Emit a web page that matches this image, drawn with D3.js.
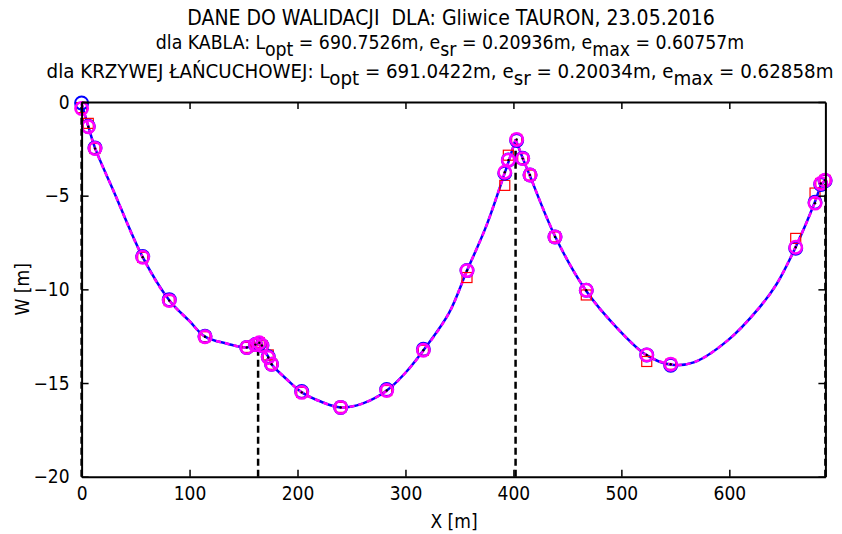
<!DOCTYPE html>
<html lang="pl">
<head>
  <meta charset="UTF-8">
  <title>Dane do walidacji</title>
  <script src="https://d3js.org/d3.v7.min.js"></script>
  <style>
    body { margin:0; background:#fff; }
    svg { display:block; }
    text { font-family: "Liberation Sans Narrow", "DejaVu Sans Condensed", "Liberation Sans", Arial, sans-serif; fill:#000; }
  </style>
</head>
<body>
  <script>
    // poles (vertical dashed lines)
    const poleX = [0, 163.5, 402, 689];
    const poleW = [-0.1, -12.9, -2.0, -4.15];

    // points
    const ptX   = [0, 6.2, 12.4, 56.6, 81.2, 114.3, 153, 161, 164.6, 167, 172.9, 176, 203.9, 240, 282.6, 316.6, 357, 392, 395.3, 403, 408.6, 415.4, 438.5, 467.5, 523.5, 545.7, 661.5, 679.4, 684.7, 688.7];
    const measW = [-0.3, -1.14, -2.48, -8.29, -10.6, -12.53, -13.1, -12.95, -12.85, -13.0, -13.5, -14.0, -15.5, -16.3, -15.4, -13.25, -9.37, -4.45, -2.84, -2.0, -3.02, -3.9, -7.2, -10.3, -13.85, -14.0, -7.28, -4.86, -4.35, -4.18];
    const kabW  = [-0.05, -1.3, -2.45, -8.25, -10.55, -12.5, -13.1, -12.95, -12.9, -13.0, -13.6, -14.0, -15.45, -16.3, -15.35, -13.2, -9.0, -3.8, -3.1, -2.05, -3.0, -3.9, -7.2, -10.05, -13.5, -14.05, -7.8, -5.35, -4.4, -4.2];
    const lancW = [-0.35, -1.32, -2.48, -8.29, -10.6, -12.53, -13.1, -12.95, -12.85, -13.0, -13.64, -14.0, -15.5, -16.3, -15.4, -13.25, -9.0, -3.75, -3.1, -2.0, -3.02, -3.9, -7.2, -10.05, -13.5, -14.0, -7.75, -5.4, -4.35, -4.18];

    // curves (cable = blue solid, catenary = magenta dashed)
    const lineX    = [0, 6.2, 12.4, 30, 56.6, 81.2, 100, 114.3, 135, 153, 163.5, 173, 176, 190, 204, 222, 240, 260, 283, 300, 317, 340, 357, 375, 392, 396, 402, 409, 415, 439, 467, 495, 523, 546, 567, 598, 628, 644, 661, 679, 685, 689];
    const kabLine  = [-0.1, -1.3, -2.45, -4.8, -8.28, -10.58, -11.7, -12.52, -12.9, -13.1, -12.9, -13.6, -14.0, -14.8, -15.5, -16.0, -16.3, -16.1, -15.38, -14.45, -13.22, -11.3, -9.0, -6.6, -3.78, -3.1, -2.0, -3.05, -3.9, -7.22, -10.05, -12.0, -13.5, -14.03, -13.9, -12.75, -10.96, -9.7, -7.8, -5.38, -4.45, -4.15];
    const lancLine = [-0.1, -1.3, -2.46, -4.8, -8.29, -10.6, -11.7, -12.53, -12.9, -13.1, -12.9, -13.62, -14.0, -14.8, -15.5, -16.0, -16.3, -16.1, -15.4, -14.45, -13.25, -11.3, -9.0, -6.6, -3.76, -3.1, -2.0, -3.02, -3.9, -7.2, -10.05, -12.0, -13.5, -14.0, -13.9, -12.75, -10.96, -9.7, -7.78, -5.4, -4.4, -4.15];

    const xTicks = [0, 100, 200, 300, 400, 500, 600];
    const yTicks = [-20, -15, -10, -5, 0];

    const titleLines = [
      [["DANE DO WALIDACJI\u00a0\u00a0DLA: Gliwice TAURON, 23.05.2016", 0]],
      [["dla KABLA: L", 0], ["opt", 1], [" = 690.7526m, e", 0], ["sr", 1], [" = 0.20936m, e", 0], ["max", 1], [" = 0.60757m", 0]],
      [["dla KRZYWEJ ŁAŃCUCHOWEJ: L", 0], ["opt", 1], [" = 691.0422m, e", 0], ["sr", 1], [" = 0.20034m, e", 0], ["max", 1], [" = 0.62858m", 0]]
    ];

    const width = 842, height = 534;
    const margin = {left: 81.6, right: 16.6, top: 102, bottom: 57.3};

    const svg = d3.select("body").append("svg")
      .attr("width", width).attr("height", height);

    const x = d3.scaleLinear().domain([0, 689]).range([margin.left, width - margin.right]);
    const y = d3.scaleLinear().domain([-20, 0]).range([height - margin.bottom, margin.top]);

    // black dashed pole lines
    svg.append("g").selectAll("line").data(poleX).join("line")
      .attr("x1", d => x(d)).attr("x2", d => x(d))
      .attr("y1", y(-20)).attr("y2", (d, i) => y(poleW[i]))
      .attr("stroke", "#000").attr("stroke-width", 2.5)
      .attr("stroke-dasharray", "7,4");

    // split curve into spans between poles
    const spans = [];
    for (let s = 0; s < poleX.length - 1; s++) {
      const idx = d3.range(lineX.length).filter(i => lineX[i] >= poleX[s] - 0.01 && lineX[i] <= poleX[s + 1] + 0.01);
      spans.push(idx);
    }
    const line = vals => d3.line()
      .x(i => x(lineX[i])).y(i => y(vals[i]))
      .curve(d3.curveCatmullRom.alpha(0.5));

    svg.append("g").selectAll("path").data(spans).join("path")
      .attr("d", line(kabLine))
      .attr("fill", "none").attr("stroke", "#0000ff").attr("stroke-width", 2.5);

    svg.append("g").selectAll("path").data(spans).join("path")
      .attr("d", line(lancLine))
      .attr("fill", "none").attr("stroke", "#ff00ff").attr("stroke-width", 2.5)
      .attr("stroke-dasharray", "5,4");

    // red squares
    svg.append("g").selectAll("rect").data(ptX).join("rect")
      .attr("x", (d, i) => x(d) - 5).attr("y", (d, i) => y(measW[i]) - 5)
      .attr("width", 10).attr("height", 10)
      .attr("fill", "none").attr("stroke", "#ff0000").attr("stroke-width", 1.2);

    // blue circles (cable)
    svg.append("g").selectAll("circle").data(ptX).join("circle")
      .attr("cx", d => x(d)).attr("cy", (d, i) => y(kabW[i]))
      .attr("r", 6.5)
      .attr("fill", "none").attr("stroke", "#0000ff").attr("stroke-width", 2);

    // magenta circles (catenary)
    svg.append("g").selectAll("circle").data(ptX).join("circle")
      .attr("cx", d => x(d)).attr("cy", (d, i) => y(lancW[i]))
      .attr("r", 6.2)
      .attr("fill", "none").attr("stroke", "#ff00ff").attr("stroke-width", 2.5);

    // black measurement dots
    svg.append("g").selectAll("circle").data(ptX).join("circle")
      .attr("cx", d => x(d)).attr("cy", (d, i) => y(lancW[i]))
      .attr("r", 1.2).attr("fill", "#000");

    // axes box with inward ticks
    const fs = "19px";
    const gx = svg.append("g").attr("transform", `translate(0,${y(-20)})`)
      .call(d3.axisBottom(x).tickValues(xTicks).tickSizeInner(-7).tickSizeOuter(0).tickPadding(10));
    const gxTop = svg.append("g").attr("transform", `translate(0,${y(0)})`)
      .call(d3.axisTop(x).tickValues(xTicks).tickSizeInner(-7).tickSizeOuter(0).tickFormat(""));
    const gy = svg.append("g").attr("transform", `translate(${x(0)},0)`)
      .call(d3.axisLeft(y).tickValues(yTicks).tickSizeInner(-7).tickSizeOuter(0).tickPadding(12));
    const gyRight = svg.append("g").attr("transform", `translate(${x(689)},0)`)
      .call(d3.axisRight(y).tickValues(yTicks).tickSizeInner(-7).tickSizeOuter(0).tickFormat(""));

    [gx, gxTop, gy, gyRight].forEach(g => {
      g.select(".domain").attr("stroke", "#000").attr("stroke-width", 2);
      g.selectAll(".tick line").attr("stroke", "#000").attr("stroke-width", 1.5);
      g.selectAll("text").attr("font-size", fs).attr("font-family", null).attr("fill", "#000");
    });

    // axis labels
    svg.append("text")
      .attr("x", x(345)).attr("y", 528)
      .attr("text-anchor", "middle").attr("font-size", fs)
      .text("X [m]");
    svg.append("text")
      .attr("transform", `translate(29,${y(-10)}) rotate(-90)`)
      .attr("text-anchor", "middle").attr("font-size", fs)
      .text("W [m]");

    // title
    const baselines = [25, 49, 78];
    const titleSizes = ["21px", "19.3px", "20.3px"];
    const titleCx = [451, 450, 440];
    titleLines.forEach((parts, li) => {
      const t = svg.append("text")
        .attr("x", titleCx[li]).attr("y", baselines[li])
        .attr("text-anchor", "middle").attr("font-size", titleSizes[li]);
      parts.forEach(([str, sub], k) => {
        const prevSub = k > 0 ? parts[k - 1][1] : 0;
        t.append("tspan")
          .attr("dy", sub ? 7 : (prevSub ? -7 : 0))
          .text(str);
      });
    });
  </script>
</body>
</html>
